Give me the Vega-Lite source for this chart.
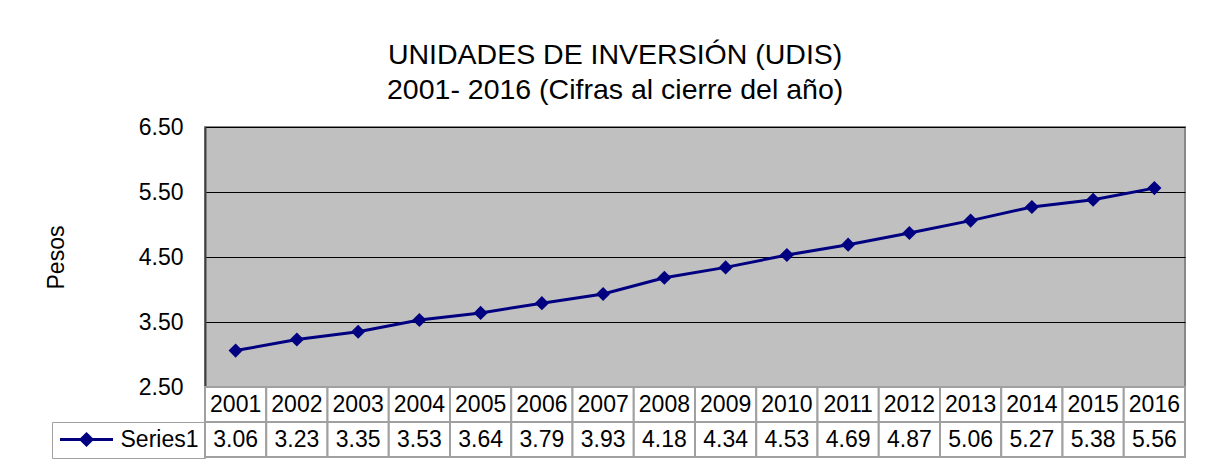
{
  "$schema": "https://vega.github.io/schema/vega-lite/v6.json",
  "background": "white",
  "padding": {"left": 44, "top": 40, "right": 20, "bottom": 5},
  "config": {
    "font": "Liberation Sans",
    "view": {"stroke": null}
  },
  "title": {
    "text": ["UNIDADES DE INVERSIÓN (UDIS)", "2001- 2016 (Cifras al cierre del año)"],
    "fontSize": 28.5,
    "fontWeight": "normal",
    "font": "Liberation Sans",
    "color": "black",
    "lineHeight": 35,
    "anchor": "middle",
    "frame": "bounds",
    "offset": 11
  },
  "datasets": {
    "udis": [
      {"year": "2001", "value": 3.06, "series": "Series1"},
      {"year": "2002", "value": 3.23, "series": "Series1"},
      {"year": "2003", "value": 3.35, "series": "Series1"},
      {"year": "2004", "value": 3.53, "series": "Series1"},
      {"year": "2005", "value": 3.64, "series": "Series1"},
      {"year": "2006", "value": 3.79, "series": "Series1"},
      {"year": "2007", "value": 3.93, "series": "Series1"},
      {"year": "2008", "value": 4.18, "series": "Series1"},
      {"year": "2009", "value": 4.34, "series": "Series1"},
      {"year": "2010", "value": 4.53, "series": "Series1"},
      {"year": "2011", "value": 4.69, "series": "Series1"},
      {"year": "2012", "value": 4.87, "series": "Series1"},
      {"year": "2013", "value": 5.06, "series": "Series1"},
      {"year": "2014", "value": 5.27, "series": "Series1"},
      {"year": "2015", "value": 5.38, "series": "Series1"},
      {"year": "2016", "value": 5.56, "series": "Series1"}
    ]
  },
  "spacing": 0,
  "bounds": "flush",
  "vconcat": [
    {
      "width": 980,
      "height": 260,
      "view": {"fill": "#C0C0C0", "stroke": "#888888", "strokeWidth": 2},
      "data": {"name": "udis"},
      "encoding": {
        "x": {
          "field": "year", "type": "ordinal",
          "scale": {"type": "band", "paddingInner": 0, "paddingOuter": 0},
          "axis": null
        },
        "y": {
          "field": "value", "type": "quantitative",
          "scale": {"domain": [2.5, 6.5], "nice": false, "zero": false},
          "axis": {
            "values": [2.5, 3.5, 4.5, 5.5, 6.5],
            "format": ".2f",
            "title": "Pesos",
            "titleFontSize": 23,
            "titleFontWeight": "normal",
            "titleColor": "black",
            "titlePadding": 70,
            "labelFontSize": 23,
            "labelColor": "black",
            "labelPadding": 22,
            "ticks": false,
            "grid": true,
            "gridColor": "#000000",
            "gridWidth": 1,
            "domainColor": "#404040",
            "domainWidth": 2
          }
        },
        "color": {
          "field": "series", "type": "nominal",
          "scale": {"range": ["#000080"]},
          "legend": {
            "title": null,
            "orient": "none",
            "legendX": -153,
            "legendY": 295,
            "padding": 6,
            "strokeColor": "#a0a0a0",
            "symbolType": "M-2.65,0H2.65M0,-0.55L0.55,0L0,0.55L-0.55,0Z",
            "symbolSize": 400,
            "symbolOffset": 17,
            "symbolStrokeWidth": 3,
            "symbolFillColor": "#000080",
            "symbolStrokeColor": "#000080",
            "labelFontSize": 23,
            "labelColor": "black",
            "labelOffset": 22.5
          }
        }
      },
      "mark": {
        "type": "line",
        "strokeWidth": 3,
        "point": {"shape": "diamond", "filled": true, "size": 200, "opacity": 1}
      }
    },
    {
      "width": 980,
      "height": 35,
      "data": {"name": "udis"},
      "encoding": {
        "x": {
          "field": "year", "type": "ordinal",
          "scale": {"type": "band", "paddingInner": 0, "paddingOuter": 0},
          "axis": null
        }
      },
      "layer": [
        {"mark": {"type": "rect", "fill": "white", "stroke": "#a0a0a0", "strokeWidth": 2}},
        {"mark": {"type": "text", "fontSize": 23, "color": "black", "baseline": "middle"}, "encoding": {"text": {"field": "year"}}}
      ]
    },
    {
      "width": 980,
      "height": 35,
      "data": {"name": "udis"},
      "encoding": {
        "x": {
          "field": "year", "type": "ordinal",
          "scale": {"type": "band", "paddingInner": 0, "paddingOuter": 0},
          "axis": null
        }
      },
      "layer": [
        {"mark": {"type": "rect", "fill": "white", "stroke": "#a0a0a0", "strokeWidth": 2}},
        {"mark": {"type": "text", "fontSize": 23, "color": "black", "baseline": "middle"}, "encoding": {"text": {"field": "value", "format": ".2f"}}}
      ]
    }
  ]
}
